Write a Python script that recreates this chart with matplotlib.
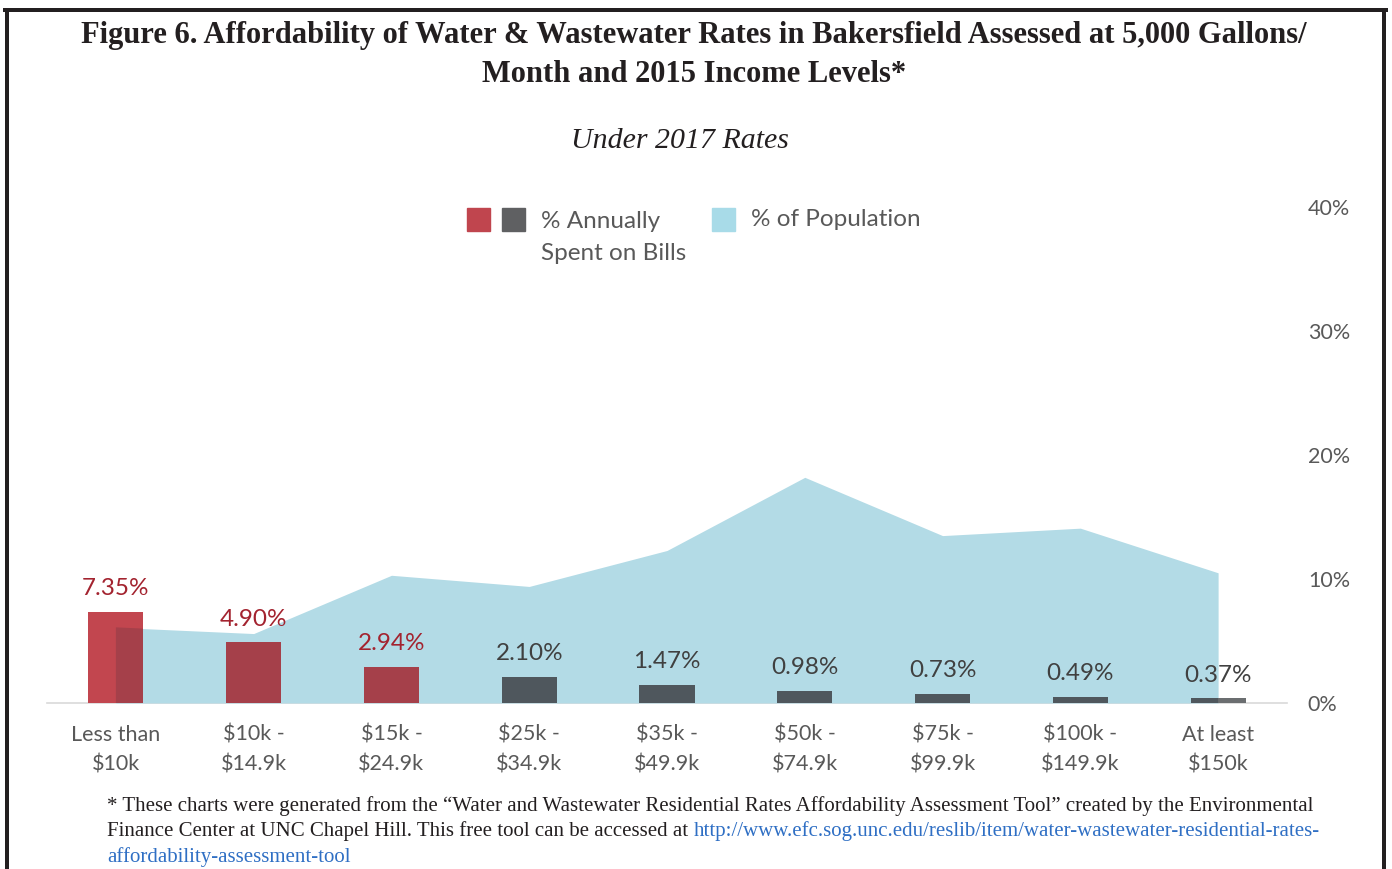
import matplotlib
matplotlib.use("Agg")
import matplotlib.pyplot as plt
from matplotlib.patches import Rectangle
from matplotlib.lines import Line2D
import numpy as np

categories = ["Less than\n$10k", "$10k -\n$14.9k", "$15k -\n$24.9k", "$25k -\n$34.9k",
              "$35k -\n$49.9k", "$50k -\n$74.9k", "$75k -\n$99.9k", "$100k -\n$149.9k",
              "At least\n$150k"]
pct_spent = [7.35, 4.90, 2.94, 2.10, 1.47, 0.98, 0.73, 0.49, 0.37]
pct_labels = ["7.35%", "4.90%", "2.94%", "2.10%", "1.47%", "0.98%", "0.73%", "0.49%", "0.37%"]
pct_population = [6.1, 5.6, 10.3, 9.4, 12.3, 18.2, 13.5, 14.1, 10.5]
yticks = [0, 10, 20, 30, 40]
ytick_labels = ["0%", "10%", "20%", "30%", "40%"]

W, H = 1392, 869
fig = plt.figure(figsize=(W / 100, H / 100), dpi=100)
fig.patch.set_facecolor("white")

SANS = ["Lato", "DejaVu Sans"]
SERIF = ["Liberation Serif", "DejaVu Serif"]

def fx(px):
    return px / W

def fy(py):
    return 1 - py / H

ax = fig.add_axes([fx(47), fy(703), fx(1287) - fx(47), fy(207) - fy(703)])
x = np.arange(len(categories))

area = ax.fill_between(x, 0, pct_population, color="#b3dbe6", linewidth=0, zorder=1)
area_path = area.get_paths()[0]

# threshold-based colours: red for high burden, dark gray otherwise
light_cols = ["#c2464f" if v > 2.5 else "#6b6e70" for v in pct_spent]
dark_cols = ["#a5404a" if v > 2.5 else "#4f575d" for v in pct_spent]

bars_light = ax.bar(x, pct_spent, width=0.4, color=light_cols, zorder=2, linewidth=0)
bars_dark = ax.bar(x, pct_spent, width=0.4, color=dark_cols, zorder=3, linewidth=0)
for b in bars_dark:
    b.set_clip_path(area_path, ax.transData)

label_cols = ["#a3232f" if v > 2.5 else "#404040" for v in pct_spent]
for xi, v, lab, c in zip(x, pct_spent, pct_labels, label_cols):
    ax.annotate(lab, (xi, v), xytext=(0, 9), textcoords="offset points",
                ha="center", va="bottom", fontsize=17.5, color=c, family=SANS, zorder=5)

ax.set_xlim(-0.5, len(categories) - 0.5)
ax.set_ylim(0, 40)
ax.set_xticks(x)
ax.set_xticklabels(categories, fontsize=15.5, color="#595959", family=SANS, linespacing=1.62)
ax.set_yticks(yticks)
ax.set_yticklabels(ytick_labels, fontsize=15.5, color="#595959", family=SANS)
ax.yaxis.tick_right()
ax.tick_params(axis="y", length=0, pad=15)
ax.tick_params(axis="x", length=0, pad=15.5)
for s in ["top", "left", "right"]:
    ax.spines[s].set_visible(False)
ax.spines["bottom"].set_color("#d9d9d9")
ax.spines["bottom"].set_linewidth(1.2)
ax.spines["bottom"].set_zorder(0)
ax.set_facecolor("none")

# Titles
fig.text(fx(694), fy(36), "Figure 6. Affordability of Water & Wastewater Rates in Bakersfield Assessed at 5,000 Gallons/",
         ha="center", va="center", fontsize=22, fontweight="bold", family=SERIF, color="#231f20")
fig.text(fx(694), fy(74), "Month and 2015 Income Levels*",
         ha="center", va="center", fontsize=22, fontweight="bold", family=SERIF, color="#231f20")
fig.text(fx(680), fy(141), "Under 2017 Rates", ha="center", va="center", fontsize=21.5,
         style="italic", family=SERIF, color="#231f20")

# Legend (manual)
for (x0, col) in [(467, "#c0454e"), (502, "#5f6062"), (712, "#a8dbe8")]:
    fig.patches.append(Rectangle((fx(x0), fy(231)), fx(23), fy(208) - fy(231),
                                 transform=fig.transFigure, color=col, figure=fig))
fig.text(fx(541), fy(221), "% Annually", ha="left", va="center", fontsize=17.5,
         family=SANS, color="#595959")
fig.text(fx(541), fy(253), "Spent on Bills", ha="left", va="center", fontsize=17.5,
         family=SANS, color="#595959")
fig.text(fx(751), fy(219), "% of Population", ha="left", va="center", fontsize=17.5,
         family=SANS, color="#595959")

# Footnote
FS = 15
fig.text(fx(107), fy(806), "* These charts were generated from the \u201cWater and Wastewater Residential Rates Affordability Assessment Tool\u201d created by the Environmental",
         ha="left", va="center", fontsize=FS, family=SERIF, color="#231f20")
t1 = fig.text(fx(107), fy(831), "Finance Center at UNC Chapel Hill. This free tool can be accessed at ",
              ha="left", va="center", fontsize=FS, family=SERIF, color="#231f20")
fig.canvas.draw()
bb = t1.get_window_extent()
fig.text(bb.x1 / fig.bbox.width, fy(831), "http://www.efc.sog.unc.edu/reslib/item/water-wastewater-residential-rates-",
         ha="left", va="center", fontsize=FS, family=SERIF, color="#2f6fc4")
fig.text(fx(107), fy(857), "affordability-assessment-tool",
         ha="left", va="center", fontsize=FS, family=SERIF, color="#2f6fc4")

# Frame
for (xs, ys, lw) in [([7, 7], [10, 869], 4.0), ([1384, 1384], [10, 869], 4.0), ([5, 1386], [10, 10], 4.0)]:
    fig.lines.append(Line2D([fx(v) for v in xs], [fy(v) for v in ys], transform=fig.transFigure,
                            color="#231f20", linewidth=lw * 0.72, figure=fig))

fig.savefig("out.png", dpi=100)
